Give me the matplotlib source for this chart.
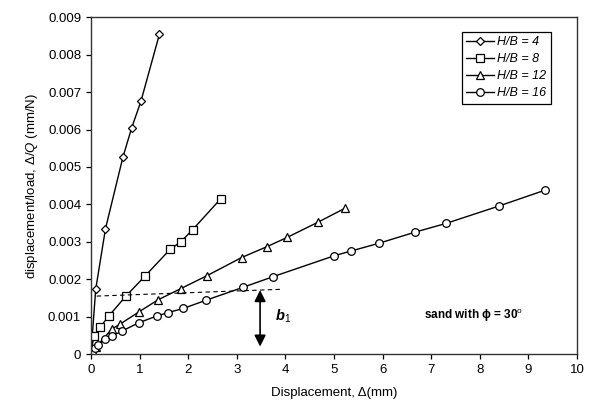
import matplotlib
matplotlib.use("Agg")
import matplotlib.pyplot as plt
from matplotlib.ticker import FuncFormatter

plt.rcParams['font.family'] = ['Liberation Sans', 'DejaVu Sans']
plt.rcParams['mathtext.fontset'] = 'custom'
plt.rcParams['mathtext.rm'] = 'Liberation Sans'
plt.rcParams['mathtext.it'] = 'Liberation Sans:italic'
plt.rcParams['mathtext.bf'] = 'Liberation Sans:bold:italic'

# ---- data ----
hb4_x = [0.0, 0.10, 0.30, 0.66, 0.84, 1.03, 1.41]
hb4_y = [0.0, 0.00174, 0.00335, 0.00527, 0.00605, 0.00676, 0.00855]

hb8_x = [0.0, 0.06, 0.19, 0.37, 0.72, 1.11, 1.63, 1.85, 2.09, 2.67]
hb8_y = [0.0, 0.00049, 0.00072, 0.00102, 0.00155, 0.00208, 0.00280, 0.00300, 0.00332, 0.00415]

hb12_x = [0.0, 0.10, 0.43, 0.60, 0.99, 1.38, 1.85, 2.38, 3.10, 3.62, 4.04, 4.68, 5.23]
hb12_y = [0.0, 0.00018, 0.00067, 0.00080, 0.00113, 0.00145, 0.00175, 0.00209,
          0.00258, 0.00287, 0.00312, 0.00353, 0.00390]

hb16_x = [0.0, 0.03, 0.08, 0.14, 0.30, 0.44, 0.63, 0.99, 1.36, 1.59, 1.90, 2.37,
          3.12, 3.75, 5.01, 5.34, 5.92, 6.67, 7.30, 8.40, 9.34]
hb16_y = [0.0, 0.00006, 0.00015, 0.00024, 0.00040, 0.00048, 0.00061, 0.00084,
          0.00102, 0.00111, 0.00122, 0.00144, 0.00178, 0.00207, 0.00263, 0.00275,
          0.00296, 0.00326, 0.00349, 0.00396, 0.00438]

labels = ['H/B = 4', 'H/B = 8', 'H/B = 12', 'H/B = 16']

# dashed reference line and b1 arrow
dash_x = [0.12, 3.89]
dash_y = [0.00155, 0.00173]
arrow_x = 3.48
arrow_top = 0.00171
arrow_bot = 0.0002

fig = plt.figure(figsize=(5.98, 4.07), dpi=100)
ax = fig.add_axes([0.152, 0.130, 0.813, 0.8275])

style = dict(color='black', lw=1.0, markerfacecolor='white',
             markeredgecolor='black', markeredgewidth=0.9)
ax.plot(hb4_x, hb4_y, marker='D', ms=4.2, label=labels[0], **style)
ax.plot(hb8_x, hb8_y, marker='s', ms=6, label=labels[1], **style)
ax.plot(hb12_x, hb12_y, marker='^', ms=6, label=labels[2], **style)
ax.plot(hb16_x, hb16_y, marker='o', ms=5.5, label=labels[3], **style)

ax.plot(dash_x, dash_y, color='black', lw=0.8, dashes=(4, 3))
ax.annotate('', xy=(arrow_x, arrow_bot), xytext=(arrow_x, arrow_top),
            arrowprops=dict(arrowstyle='<|-|>', color='black', lw=1.2,
                            mutation_scale=17, shrinkA=0, shrinkB=0))
ax.text(3.78, 0.00102, r'$\mathbf{b}_{\mathrm{1}}$', fontsize=10.5, va='center')
ax.text(7.87, 0.00102, 'sand with \u03d5 = 30$^{\\mathrm{o}}$', fontsize=8.5,
        fontweight='bold', ha='center', va='center')

ax.set_xlim(0, 10)
ax.set_ylim(0, 0.009)
ax.set_xticks(range(0, 11))
ax.set_yticks([i * 0.001 for i in range(10)])
ax.yaxis.set_major_formatter(FuncFormatter(lambda v, p: '0' if abs(v) < 1e-9 else f'{v:.3f}'))
ax.tick_params(direction='out', length=3.5, width=0.9, labelsize=9.5, colors='black')
for s in ax.spines.values():
    s.set_linewidth(1.0)
    s.set_color('#333333')

ax.set_xlabel('Displacement, \u0394(mm)', fontsize=9.5, labelpad=8)
ax.set_ylabel(r'displacement/load, $\Delta/Q$ (mm/N)', fontsize=9.5, labelpad=6)

leg = ax.legend(loc='upper right', bbox_to_anchor=(0.946, 0.956),
                prop={'size': 9, 'style': 'italic'},
                fancybox=False, framealpha=1, edgecolor='black',
                handlelength=2.2, handletextpad=0.3, borderpad=0.35,
                labelspacing=0.4, borderaxespad=0)
leg.get_frame().set_linewidth(0.9)

fig.savefig('out.png', dpi=100)
